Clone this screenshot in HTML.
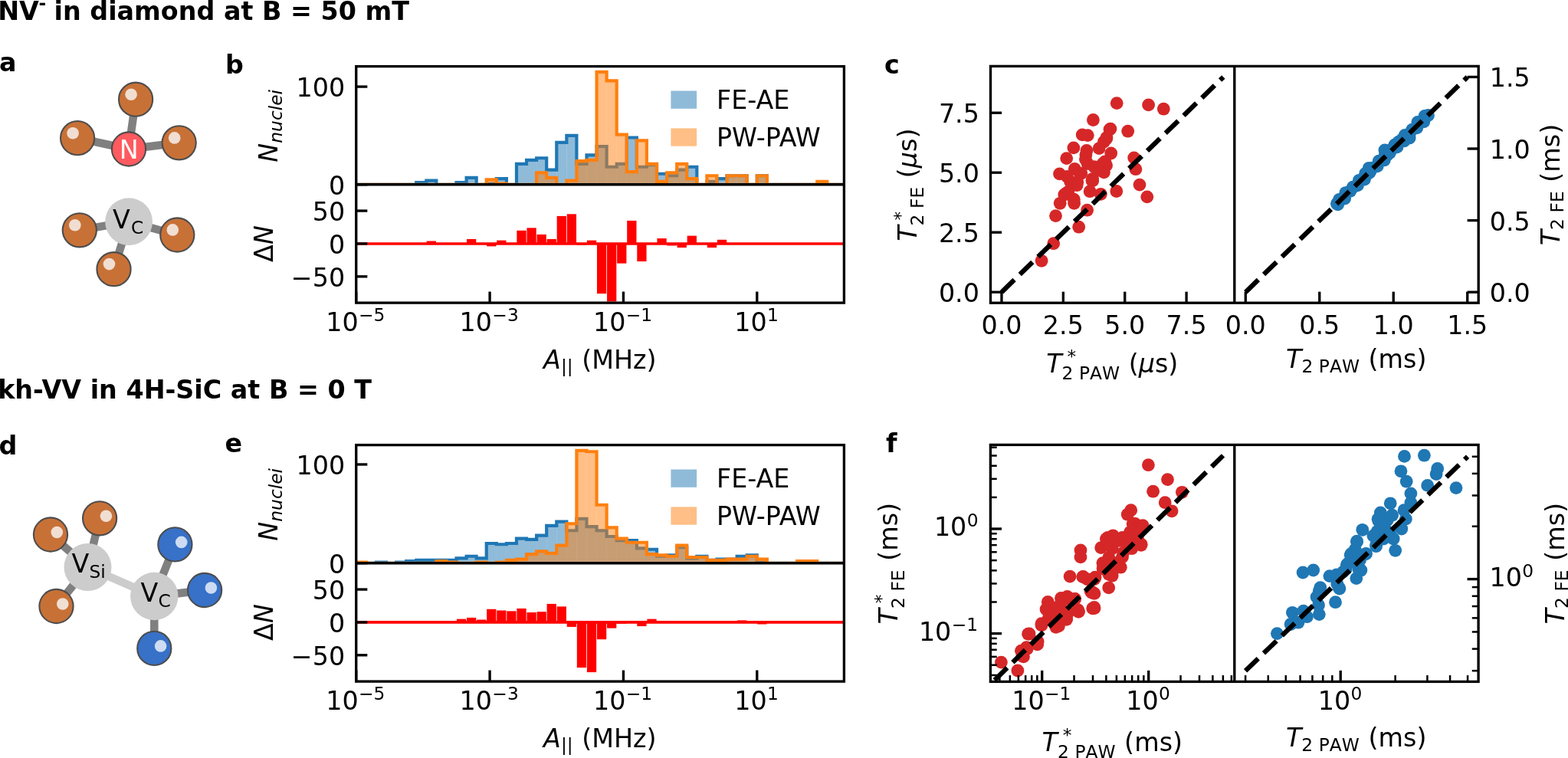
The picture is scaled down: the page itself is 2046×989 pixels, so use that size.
<!DOCTYPE html>
<html><head><meta charset="utf-8"><title>Figure</title>
<style>html,body{margin:0;padding:0;background:#fff;overflow:hidden}svg{display:block}</style>
</head><body>
<svg width="2046" height="989" viewBox="0 0 2046 989" font-family='"DejaVu Sans","Liberation Sans",sans-serif'>
<rect width="2046" height="989" fill="#fff"/>
<defs>
</defs>
<text x="-2.8" y="25.7" font-size="33.33" font-weight="bold">NV<tspan font-size="23.33" dy="-13.6" dx="-0.4">-</tspan><tspan dy="13.6" dx="-1.2"> in diamond at B = 50 mT</tspan></text>
<text x="-2.8" y="519.7" font-size="33.33" font-weight="bold">kh-VV in 4H-SiC at B = 0 T</text>
<text x="-1.00" y="92.60" font-size="33.33" font-weight="bold">a</text>
<text x="294.00" y="95.80" font-size="33.33" font-weight="bold">b</text>
<text x="1154.00" y="96.10" font-size="33.33" font-weight="bold">c</text>
<text x="-1.50" y="593.00" font-size="33.33" font-weight="bold">d</text>
<text x="293.50" y="589.60" font-size="33.33" font-weight="bold">e</text>
<text x="1156.00" y="589.90" font-size="33.33" font-weight="bold">f</text>
<line x1="168.00" y1="194.50" x2="177.10" y2="129.70" stroke="#808080" stroke-width="10.5"/>
<line x1="168.00" y1="194.50" x2="101.10" y2="180.10" stroke="#808080" stroke-width="10.5"/>
<line x1="168.00" y1="194.50" x2="233.70" y2="186.30" stroke="#808080" stroke-width="10.5"/>
<circle cx="177.10" cy="129.70" r="22.1" fill="#c87137" stroke="#4d4d4d" stroke-width="2.1"/>
<circle cx="171.10" cy="123.30" r="7.8" fill="#f1ded2"/>
<circle cx="101.10" cy="180.10" r="22.1" fill="#c87137" stroke="#4d4d4d" stroke-width="2.1"/>
<circle cx="95.10" cy="173.70" r="7.8" fill="#f1ded2"/>
<circle cx="233.70" cy="186.30" r="22.1" fill="#c87137" stroke="#4d4d4d" stroke-width="2.1"/>
<circle cx="227.70" cy="179.90" r="7.8" fill="#f1ded2"/>
<circle cx="168.00" cy="194.50" r="22.1" fill="#ff5a5f" stroke="#4d4d4d" stroke-width="2.1"/>
<text x="168.3" y="206.7" font-size="33.33" text-anchor="middle" fill="#fff">N</text>
<line x1="168.10" y1="289.20" x2="103.80" y2="300.30" stroke="#808080" stroke-width="10.5"/>
<line x1="168.10" y1="289.20" x2="231.30" y2="306.50" stroke="#808080" stroke-width="10.5"/>
<line x1="168.10" y1="289.20" x2="148.50" y2="351.20" stroke="#808080" stroke-width="10.5"/>
<circle cx="168.10" cy="289.20" r="30.9" fill="#cccccc"/>
<circle cx="103.80" cy="300.30" r="22.1" fill="#c87137" stroke="#4d4d4d" stroke-width="2.1"/>
<circle cx="97.80" cy="293.70" r="7.8" fill="#f1ded2"/>
<circle cx="231.30" cy="306.50" r="22.1" fill="#c87137" stroke="#4d4d4d" stroke-width="2.1"/>
<circle cx="225.30" cy="299.90" r="7.8" fill="#f1ded2"/>
<circle cx="148.50" cy="351.20" r="22.1" fill="#c87137" stroke="#4d4d4d" stroke-width="2.1"/>
<circle cx="142.50" cy="344.60" r="7.8" fill="#f1ded2"/>
<text x="147.00" y="297.70" font-size="33.33">V</text>
<text x="171.00" y="304.60" font-size="23.33">C</text>
<line x1="114.50" y1="740.00" x2="201.30" y2="778.00" stroke="#cccccc" stroke-width="10.5"/>
<line x1="114.50" y1="740.00" x2="66.00" y2="697.50" stroke="#808080" stroke-width="10.5"/>
<line x1="114.50" y1="740.00" x2="130.10" y2="676.30" stroke="#808080" stroke-width="10.5"/>
<line x1="114.50" y1="740.00" x2="73.50" y2="791.00" stroke="#808080" stroke-width="10.5"/>
<line x1="201.30" y1="778.00" x2="228.40" y2="710.40" stroke="#808080" stroke-width="10.5"/>
<line x1="201.30" y1="778.00" x2="267.10" y2="770.00" stroke="#808080" stroke-width="10.5"/>
<line x1="201.30" y1="778.00" x2="201.30" y2="845.90" stroke="#808080" stroke-width="10.5"/>
<circle cx="114.50" cy="740.00" r="31.0" fill="#cccccc"/>
<circle cx="201.30" cy="778.00" r="31.2" fill="#cccccc"/>
<circle cx="66.00" cy="697.50" r="22.1" fill="#c87137" stroke="#4d4d4d" stroke-width="2.1"/>
<circle cx="74.30" cy="694.50" r="7.8" fill="#f1ded2"/>
<circle cx="130.10" cy="676.30" r="22.1" fill="#c87137" stroke="#4d4d4d" stroke-width="2.1"/>
<circle cx="138.40" cy="673.30" r="7.8" fill="#f1ded2"/>
<circle cx="73.50" cy="791.00" r="22.1" fill="#c87137" stroke="#4d4d4d" stroke-width="2.1"/>
<circle cx="81.80" cy="788.00" r="7.8" fill="#f1ded2"/>
<circle cx="228.40" cy="710.40" r="22.1" fill="#3771c8" stroke="#4d4d4d" stroke-width="2.1"/>
<circle cx="236.70" cy="707.40" r="7.8" fill="#cddcf2"/>
<circle cx="267.10" cy="770.00" r="22.1" fill="#3771c8" stroke="#4d4d4d" stroke-width="2.1"/>
<circle cx="275.40" cy="767.00" r="7.8" fill="#cddcf2"/>
<circle cx="201.30" cy="845.90" r="22.1" fill="#3771c8" stroke="#4d4d4d" stroke-width="2.1"/>
<circle cx="209.60" cy="842.90" r="7.8" fill="#cddcf2"/>
<text x="93.60" y="747.30" font-size="33.33">V</text>
<text x="116.50" y="754.20" font-size="23.33">Si</text>
<text x="183.60" y="785.20" font-size="33.33">V</text>
<text x="206.40" y="791.60" font-size="23.33">C</text>
<clipPath id="cbh"><rect x="464.75" y="86.60" width="636.65" height="154.15"/></clipPath>
<clipPath id="cbn"><rect x="464.75" y="240.75" width="636.65" height="154.35"/></clipPath>
<g clip-path="url(#cbh)">
<g fill="#1f77b4" fill-opacity="0.5"><rect x="543.21" y="238.20" width="13.08" height="2.55"/><rect x="556.28" y="235.64" width="13.08" height="5.11"/><rect x="595.51" y="238.20" width="13.08" height="2.55"/><rect x="608.59" y="231.81" width="13.08" height="8.94"/><rect x="634.74" y="239.47" width="13.08" height="1.28"/><rect x="647.81" y="233.09" width="13.08" height="7.66"/><rect x="673.97" y="213.94" width="13.08" height="26.81"/><rect x="687.04" y="208.83" width="13.08" height="31.92"/><rect x="700.12" y="206.28" width="13.08" height="34.47"/><rect x="713.19" y="221.60" width="13.08" height="19.15"/><rect x="726.27" y="185.86" width="13.08" height="54.89"/><rect x="739.35" y="176.92" width="13.08" height="63.83"/><rect x="752.42" y="213.94" width="13.08" height="26.81"/><rect x="765.50" y="202.45" width="13.08" height="38.30"/><rect x="778.57" y="190.96" width="13.08" height="49.79"/><rect x="791.65" y="217.77" width="13.08" height="22.98"/><rect x="804.73" y="213.94" width="13.08" height="26.81"/><rect x="817.80" y="179.47" width="13.08" height="61.28"/><rect x="830.88" y="217.77" width="13.08" height="22.98"/><rect x="843.95" y="215.22" width="13.08" height="25.53"/><rect x="857.03" y="226.71" width="13.08" height="14.04"/><rect x="870.11" y="229.26" width="13.08" height="11.49"/><rect x="883.18" y="221.60" width="13.08" height="19.15"/><rect x="896.26" y="217.77" width="13.08" height="22.98"/><rect x="922.41" y="236.92" width="13.08" height="3.83"/><rect x="935.49" y="233.09" width="13.08" height="7.66"/><rect x="948.56" y="229.26" width="13.08" height="11.49"/><rect x="961.64" y="229.26" width="13.08" height="11.49"/><rect x="987.79" y="229.26" width="13.08" height="11.49"/></g>
<path d="M464.75,240.75 L464.75,240.75 L477.83,240.75 L477.83,240.75 L490.90,240.75 L490.90,240.75 L503.98,240.75 L503.98,240.75 L517.05,240.75 L517.05,240.75 L530.13,240.75 L530.13,240.75 L543.21,240.75 L543.21,238.20 L556.28,238.20 L556.28,235.64 L569.36,235.64 L569.36,240.75 L582.43,240.75 L582.43,240.75 L595.51,240.75 L595.51,238.20 L608.59,238.20 L608.59,231.81 L621.66,231.81 L621.66,240.75 L634.74,240.75 L634.74,239.47 L647.81,239.47 L647.81,233.09 L660.89,233.09 L660.89,240.75 L673.97,240.75 L673.97,213.94 L687.04,213.94 L687.04,208.83 L700.12,208.83 L700.12,206.28 L713.19,206.28 L713.19,221.60 L726.27,221.60 L726.27,185.86 L739.35,185.86 L739.35,176.92 L752.42,176.92 L752.42,213.94 L765.50,213.94 L765.50,202.45 L778.57,202.45 L778.57,190.96 L791.65,190.96 L791.65,217.77 L804.73,217.77 L804.73,213.94 L817.80,213.94 L817.80,179.47 L830.88,179.47 L830.88,217.77 L843.95,217.77 L843.95,215.22 L857.03,215.22 L857.03,226.71 L870.11,226.71 L870.11,229.26 L883.18,229.26 L883.18,221.60 L896.26,221.60 L896.26,217.77 L909.33,217.77 L909.33,240.75 L922.41,240.75 L922.41,236.92 L935.49,236.92 L935.49,233.09 L948.56,233.09 L948.56,229.26 L961.64,229.26 L961.64,229.26 L974.71,229.26 L974.71,240.75 L987.79,240.75 L987.79,229.26 L1000.87,229.26 L1000.87,240.75 L1013.94,240.75 L1013.94,240.75 L1027.02,240.75 L1027.02,240.75 L1040.09,240.75 L1040.09,240.75 L1053.17,240.75 L1053.17,240.75 L1066.25,240.75 L1066.25,240.75 L1079.32,240.75 L1079.32,240.75 L1092.40,240.75 L1092.40,240.75 L1105.47,240.75 L1105.47,240.75 L1118.55,240.75 L1118.55,240.75" fill="none" stroke="#1f77b4" stroke-width="4.17" stroke-linejoin="miter"/>
<g fill="#ff7f0e" fill-opacity="0.5"><rect x="634.74" y="234.37" width="13.08" height="6.38"/><rect x="647.81" y="239.47" width="13.08" height="1.28"/><rect x="700.12" y="225.43" width="13.08" height="15.32"/><rect x="713.19" y="231.81" width="13.08" height="8.94"/><rect x="739.35" y="235.64" width="13.08" height="5.11"/><rect x="752.42" y="210.11" width="13.08" height="30.64"/><rect x="765.50" y="208.83" width="13.08" height="31.92"/><rect x="778.57" y="93.94" width="13.08" height="146.81"/><rect x="791.65" y="105.43" width="13.08" height="135.32"/><rect x="804.73" y="175.64" width="13.08" height="65.11"/><rect x="817.80" y="224.15" width="13.08" height="16.60"/><rect x="830.88" y="183.30" width="13.08" height="57.45"/><rect x="843.95" y="213.94" width="13.08" height="26.81"/><rect x="857.03" y="236.92" width="13.08" height="3.83"/><rect x="870.11" y="225.43" width="13.08" height="15.32"/><rect x="883.18" y="213.94" width="13.08" height="26.81"/><rect x="896.26" y="233.09" width="13.08" height="7.66"/><rect x="922.41" y="229.26" width="13.08" height="11.49"/><rect x="948.56" y="229.26" width="13.08" height="11.49"/><rect x="961.64" y="229.26" width="13.08" height="11.49"/><rect x="987.79" y="229.26" width="13.08" height="11.49"/><rect x="1066.25" y="236.92" width="13.08" height="3.83"/></g>
<path d="M464.75,240.75 L464.75,240.75 L477.83,240.75 L477.83,240.75 L490.90,240.75 L490.90,240.75 L503.98,240.75 L503.98,240.75 L517.05,240.75 L517.05,240.75 L530.13,240.75 L530.13,240.75 L543.21,240.75 L543.21,240.75 L556.28,240.75 L556.28,240.75 L569.36,240.75 L569.36,240.75 L582.43,240.75 L582.43,240.75 L595.51,240.75 L595.51,240.75 L608.59,240.75 L608.59,240.75 L621.66,240.75 L621.66,240.75 L634.74,240.75 L634.74,234.37 L647.81,234.37 L647.81,239.47 L660.89,239.47 L660.89,240.75 L673.97,240.75 L673.97,240.75 L687.04,240.75 L687.04,240.75 L700.12,240.75 L700.12,225.43 L713.19,225.43 L713.19,231.81 L726.27,231.81 L726.27,240.75 L739.35,240.75 L739.35,235.64 L752.42,235.64 L752.42,210.11 L765.50,210.11 L765.50,208.83 L778.57,208.83 L778.57,93.94 L791.65,93.94 L791.65,105.43 L804.73,105.43 L804.73,175.64 L817.80,175.64 L817.80,224.15 L830.88,224.15 L830.88,183.30 L843.95,183.30 L843.95,213.94 L857.03,213.94 L857.03,236.92 L870.11,236.92 L870.11,225.43 L883.18,225.43 L883.18,213.94 L896.26,213.94 L896.26,233.09 L909.33,233.09 L909.33,240.75 L922.41,240.75 L922.41,229.26 L935.49,229.26 L935.49,240.75 L948.56,240.75 L948.56,229.26 L961.64,229.26 L961.64,229.26 L974.71,229.26 L974.71,240.75 L987.79,240.75 L987.79,229.26 L1000.87,229.26 L1000.87,240.75 L1013.94,240.75 L1013.94,240.75 L1027.02,240.75 L1027.02,240.75 L1040.09,240.75 L1040.09,240.75 L1053.17,240.75 L1053.17,240.75 L1066.25,240.75 L1066.25,236.92 L1079.32,236.92 L1079.32,240.75 L1092.40,240.75 L1092.40,240.75 L1105.47,240.75 L1105.47,240.75 L1118.55,240.75 L1118.55,240.75" fill="none" stroke="#ff7f0e" stroke-width="4.17" stroke-linejoin="miter"/>
</g>
<rect x="875.4" y="118.50" width="33.7" height="23.3" fill="#1f77b4" fill-opacity="0.5"/>
<rect x="875.4" y="167.40" width="33.7" height="23.3" fill="#ff7f0e" fill-opacity="0.5"/>
<text x="935.00" y="142.00" font-size="33.33">FE-AE</text>
<text x="935.00" y="190.80" font-size="33.33">PW-PAW</text>
<g clip-path="url(#cbn)">
<line x1="464.75" y1="317.93" x2="1101.4" y2="317.93" stroke="#ff0000" stroke-width="3.6"/>
<g fill="#ff0000"><rect x="556.68" y="314.50" width="12.28" height="3.43"/><rect x="608.99" y="311.92" width="12.28" height="6.00"/><rect x="635.14" y="317.93" width="12.28" height="3.43"/><rect x="648.21" y="313.64" width="12.28" height="4.29"/><rect x="674.37" y="300.77" width="12.28" height="17.15"/><rect x="687.44" y="297.35" width="12.28" height="20.58"/><rect x="700.52" y="305.92" width="12.28" height="12.00"/><rect x="713.59" y="311.92" width="12.28" height="6.00"/><rect x="726.67" y="281.91" width="12.28" height="36.02"/><rect x="739.75" y="279.34" width="12.28" height="38.59"/><rect x="752.82" y="317.93" width="12.28" height="1.71"/><rect x="765.90" y="313.64" width="12.28" height="4.29"/><rect x="778.97" y="317.93" width="12.28" height="65.17"/><rect x="792.05" y="317.93" width="12.28" height="75.46"/><rect x="805.13" y="317.93" width="12.28" height="25.73"/><rect x="818.20" y="287.91" width="12.28" height="30.01"/><rect x="831.28" y="317.93" width="12.28" height="23.15"/><rect x="857.43" y="311.06" width="12.28" height="6.86"/><rect x="870.51" y="317.93" width="12.28" height="2.57"/><rect x="883.58" y="317.93" width="12.28" height="5.14"/><rect x="896.66" y="307.63" width="12.28" height="10.29"/><rect x="922.81" y="317.93" width="12.28" height="5.14"/><rect x="935.89" y="312.78" width="12.28" height="5.15"/></g>
</g>
<rect x="464.75" y="86.60" width="636.65" height="308.50" fill="none" stroke="#000" stroke-width="3.33"/>
<line x1="464.75" y1="240.75" x2="1101.40" y2="240.75" stroke="#000" stroke-width="3.33"/>
<line x1="464.75" y1="240.75" x2="479.33" y2="240.75" stroke="#000" stroke-width="3.33"/>
<line x1="464.75" y1="113.09" x2="479.33" y2="113.09" stroke="#000" stroke-width="3.33"/>
<line x1="464.75" y1="275.05" x2="479.33" y2="275.05" stroke="#000" stroke-width="3.33"/>
<line x1="464.75" y1="317.93" x2="479.33" y2="317.93" stroke="#000" stroke-width="3.33"/>
<line x1="464.75" y1="360.80" x2="479.33" y2="360.80" stroke="#000" stroke-width="3.33"/>
<line x1="464.75" y1="395.10" x2="464.75" y2="380.52" stroke="#000" stroke-width="3.33"/>
<line x1="639.09" y1="395.10" x2="639.09" y2="380.52" stroke="#000" stroke-width="3.33"/>
<line x1="813.43" y1="395.10" x2="813.43" y2="380.52" stroke="#000" stroke-width="3.33"/>
<line x1="987.77" y1="395.10" x2="987.77" y2="380.52" stroke="#000" stroke-width="3.33"/>
<text x="450.15" y="126.09" font-size="33.33" text-anchor="end">100</text>
<text x="450.15" y="253.75" font-size="33.33" text-anchor="end">0</text>
<text x="450.15" y="288.05" font-size="33.33" text-anchor="end">50</text>
<text x="450.15" y="330.93" font-size="33.33" text-anchor="end">0</text>
<text x="450.15" y="373.80" font-size="33.33" text-anchor="end">−50</text>
<text transform="translate(425.25,432.12)" font-size="33.33"><tspan x="0.00" y="-0.52">1</tspan><tspan x="21.23" y="-0.52">0</tspan><tspan x="42.78" y="-13.16" font-size="23.33">−</tspan><tspan x="62.36" y="-13.16" font-size="23.33">5</tspan></text>
<text transform="translate(599.59,432.12)" font-size="33.33"><tspan x="0.00" y="-0.22">1</tspan><tspan x="21.23" y="-0.22">0</tspan><tspan x="42.78" y="-12.85" font-size="23.33">−</tspan><tspan x="62.36" y="-12.85" font-size="23.33">3</tspan></text>
<text transform="translate(773.93,432.12)" font-size="33.33"><tspan x="0.00" y="-0.52">1</tspan><tspan x="21.23" y="-0.52">0</tspan><tspan x="42.78" y="-13.16" font-size="23.33">−</tspan><tspan x="62.36" y="-13.16" font-size="23.33">1</tspan></text>
<text transform="translate(958.27,432.12)" font-size="33.33"><tspan x="0.00" y="-0.52">1</tspan><tspan x="21.23" y="-0.52">0</tspan><tspan x="42.78" y="-13.16" font-size="23.33">1</tspan></text>
<text transform="translate(363.24,211.68) rotate(-90)" font-size="33.33"><tspan x="0.00" y="-0.94" font-style="italic">N</tspan><tspan x="24.97" y="4.48" font-size="23.33" font-style="italic">n</tspan><tspan x="39.77" y="4.48" font-size="23.33" font-style="italic">u</tspan><tspan x="54.58" y="4.48" font-size="23.33" font-style="italic">c</tspan><tspan x="67.42" y="4.48" font-size="23.33" font-style="italic">l</tspan><tspan x="73.92" y="4.48" font-size="23.33" font-style="italic">e</tspan><tspan x="88.29" y="4.48" font-size="23.33" font-style="italic">i</tspan></text>
<text transform="translate(356.74,341.93) rotate(-90)" font-size="33.33"><tspan x="0.00" y="-0.94">Δ</tspan><tspan x="22.83" y="-0.94" font-style="italic">N</tspan></text>
<text transform="translate(709.08,481.45)" font-size="33.33"><tspan x="0.00" y="-0.95" font-style="italic">A</tspan><tspan x="22.83" y="4.46" font-size="23.33">|</tspan><tspan x="30.70" y="4.46" font-size="23.33">|</tspan><tspan x="50.08" y="-0.95">(</tspan><tspan x="63.11" y="-0.95">M</tspan><tspan x="91.90" y="-0.95">H</tspan><tspan x="117.00" y="-0.95">z</tspan><tspan x="134.52" y="-0.95">)</tspan></text>
<clipPath id="ceh"><rect x="464.75" y="580.60" width="636.65" height="154.15"/></clipPath>
<clipPath id="cen"><rect x="464.75" y="734.75" width="636.65" height="154.35"/></clipPath>
<g clip-path="url(#ceh)">
<g fill="#1f77b4" fill-opacity="0.5"><rect x="490.90" y="733.46" width="13.08" height="1.29"/><rect x="517.05" y="733.46" width="13.08" height="1.29"/><rect x="530.13" y="732.17" width="13.08" height="2.58"/><rect x="543.21" y="730.89" width="13.08" height="3.86"/><rect x="556.28" y="730.89" width="13.08" height="3.86"/><rect x="569.36" y="730.89" width="13.08" height="3.86"/><rect x="582.43" y="730.89" width="13.08" height="3.86"/><rect x="595.51" y="728.31" width="13.08" height="6.44"/><rect x="608.59" y="725.74" width="13.08" height="9.01"/><rect x="621.66" y="728.31" width="13.08" height="6.44"/><rect x="634.74" y="708.99" width="13.08" height="25.76"/><rect x="647.81" y="710.28" width="13.08" height="24.47"/><rect x="660.89" y="708.99" width="13.08" height="25.76"/><rect x="673.97" y="702.55" width="13.08" height="32.20"/><rect x="687.04" y="703.84" width="13.08" height="30.91"/><rect x="700.12" y="698.69" width="13.08" height="36.06"/><rect x="713.19" y="685.81" width="13.08" height="48.94"/><rect x="726.27" y="680.66" width="13.08" height="54.09"/><rect x="739.35" y="692.25" width="13.08" height="42.50"/><rect x="752.42" y="676.80" width="13.08" height="57.95"/><rect x="765.50" y="687.10" width="13.08" height="47.65"/><rect x="778.57" y="692.25" width="13.08" height="42.50"/><rect x="791.65" y="699.98" width="13.08" height="34.77"/><rect x="804.73" y="705.13" width="13.08" height="29.62"/><rect x="817.80" y="705.13" width="13.08" height="29.62"/><rect x="830.88" y="715.43" width="13.08" height="19.32"/><rect x="843.95" y="716.72" width="13.08" height="18.03"/><rect x="857.03" y="725.74" width="13.08" height="9.01"/><rect x="870.11" y="724.45" width="13.08" height="10.30"/><rect x="883.18" y="714.15" width="13.08" height="20.60"/><rect x="896.26" y="728.31" width="13.08" height="6.44"/><rect x="909.33" y="725.74" width="13.08" height="9.01"/><rect x="922.41" y="730.89" width="13.08" height="3.86"/><rect x="935.49" y="729.60" width="13.08" height="5.15"/><rect x="948.56" y="729.60" width="13.08" height="5.15"/><rect x="961.64" y="725.74" width="13.08" height="9.01"/><rect x="974.71" y="724.45" width="13.08" height="10.30"/><rect x="987.79" y="733.46" width="13.08" height="1.29"/></g>
<path d="M464.75,734.75 L464.75,734.75 L477.83,734.75 L477.83,734.75 L490.90,734.75 L490.90,733.46 L503.98,733.46 L503.98,734.75 L517.05,734.75 L517.05,733.46 L530.13,733.46 L530.13,732.17 L543.21,732.17 L543.21,730.89 L556.28,730.89 L556.28,730.89 L569.36,730.89 L569.36,730.89 L582.43,730.89 L582.43,730.89 L595.51,730.89 L595.51,728.31 L608.59,728.31 L608.59,725.74 L621.66,725.74 L621.66,728.31 L634.74,728.31 L634.74,708.99 L647.81,708.99 L647.81,710.28 L660.89,710.28 L660.89,708.99 L673.97,708.99 L673.97,702.55 L687.04,702.55 L687.04,703.84 L700.12,703.84 L700.12,698.69 L713.19,698.69 L713.19,685.81 L726.27,685.81 L726.27,680.66 L739.35,680.66 L739.35,692.25 L752.42,692.25 L752.42,676.80 L765.50,676.80 L765.50,687.10 L778.57,687.10 L778.57,692.25 L791.65,692.25 L791.65,699.98 L804.73,699.98 L804.73,705.13 L817.80,705.13 L817.80,705.13 L830.88,705.13 L830.88,715.43 L843.95,715.43 L843.95,716.72 L857.03,716.72 L857.03,725.74 L870.11,725.74 L870.11,724.45 L883.18,724.45 L883.18,714.15 L896.26,714.15 L896.26,728.31 L909.33,728.31 L909.33,725.74 L922.41,725.74 L922.41,730.89 L935.49,730.89 L935.49,729.60 L948.56,729.60 L948.56,729.60 L961.64,729.60 L961.64,725.74 L974.71,725.74 L974.71,724.45 L987.79,724.45 L987.79,733.46 L1000.87,733.46 L1000.87,734.75 L1013.94,734.75 L1013.94,734.75 L1027.02,734.75 L1027.02,734.75 L1040.09,734.75 L1040.09,734.75 L1053.17,734.75 L1053.17,734.75 L1066.25,734.75 L1066.25,734.75 L1079.32,734.75 L1079.32,734.75 L1092.40,734.75 L1092.40,734.75 L1105.47,734.75 L1105.47,734.75 L1118.55,734.75 L1118.55,734.75" fill="none" stroke="#1f77b4" stroke-width="4.17" stroke-linejoin="miter"/>
<g fill="#ff7f0e" fill-opacity="0.5"><rect x="464.75" y="733.46" width="13.08" height="1.29"/><rect x="569.36" y="732.17" width="13.08" height="2.58"/><rect x="582.43" y="733.46" width="13.08" height="1.29"/><rect x="621.66" y="733.46" width="13.08" height="1.29"/><rect x="647.81" y="733.46" width="13.08" height="1.29"/><rect x="660.89" y="730.89" width="13.08" height="3.86"/><rect x="673.97" y="729.60" width="13.08" height="5.15"/><rect x="687.04" y="723.16" width="13.08" height="11.59"/><rect x="700.12" y="719.30" width="13.08" height="15.45"/><rect x="713.19" y="721.87" width="13.08" height="12.88"/><rect x="726.27" y="711.57" width="13.08" height="23.18"/><rect x="739.35" y="683.24" width="13.08" height="51.51"/><rect x="752.42" y="587.94" width="13.08" height="146.81"/><rect x="765.50" y="589.23" width="13.08" height="145.52"/><rect x="778.57" y="658.77" width="13.08" height="75.98"/><rect x="791.65" y="688.39" width="13.08" height="46.36"/><rect x="804.73" y="702.55" width="13.08" height="32.20"/><rect x="817.80" y="707.71" width="13.08" height="27.04"/><rect x="830.88" y="707.71" width="13.08" height="27.04"/><rect x="843.95" y="723.16" width="13.08" height="11.59"/><rect x="857.03" y="724.45" width="13.08" height="10.30"/><rect x="870.11" y="725.74" width="13.08" height="9.01"/><rect x="883.18" y="711.57" width="13.08" height="23.18"/><rect x="896.26" y="727.02" width="13.08" height="7.73"/><rect x="909.33" y="727.02" width="13.08" height="7.73"/><rect x="922.41" y="730.89" width="13.08" height="3.86"/><rect x="935.49" y="730.89" width="13.08" height="3.86"/><rect x="948.56" y="729.60" width="13.08" height="5.15"/><rect x="961.64" y="729.60" width="13.08" height="5.15"/><rect x="974.71" y="725.74" width="13.08" height="9.01"/><rect x="987.79" y="729.60" width="13.08" height="5.15"/><rect x="1040.09" y="732.17" width="13.08" height="2.58"/><rect x="1053.17" y="732.17" width="13.08" height="2.58"/></g>
<path d="M464.75,734.75 L464.75,733.46 L477.83,733.46 L477.83,734.75 L490.90,734.75 L490.90,734.75 L503.98,734.75 L503.98,734.75 L517.05,734.75 L517.05,734.75 L530.13,734.75 L530.13,734.75 L543.21,734.75 L543.21,734.75 L556.28,734.75 L556.28,734.75 L569.36,734.75 L569.36,732.17 L582.43,732.17 L582.43,733.46 L595.51,733.46 L595.51,734.75 L608.59,734.75 L608.59,734.75 L621.66,734.75 L621.66,733.46 L634.74,733.46 L634.74,734.75 L647.81,734.75 L647.81,733.46 L660.89,733.46 L660.89,730.89 L673.97,730.89 L673.97,729.60 L687.04,729.60 L687.04,723.16 L700.12,723.16 L700.12,719.30 L713.19,719.30 L713.19,721.87 L726.27,721.87 L726.27,711.57 L739.35,711.57 L739.35,683.24 L752.42,683.24 L752.42,587.94 L765.50,587.94 L765.50,589.23 L778.57,589.23 L778.57,658.77 L791.65,658.77 L791.65,688.39 L804.73,688.39 L804.73,702.55 L817.80,702.55 L817.80,707.71 L830.88,707.71 L830.88,707.71 L843.95,707.71 L843.95,723.16 L857.03,723.16 L857.03,724.45 L870.11,724.45 L870.11,725.74 L883.18,725.74 L883.18,711.57 L896.26,711.57 L896.26,727.02 L909.33,727.02 L909.33,727.02 L922.41,727.02 L922.41,730.89 L935.49,730.89 L935.49,730.89 L948.56,730.89 L948.56,729.60 L961.64,729.60 L961.64,729.60 L974.71,729.60 L974.71,725.74 L987.79,725.74 L987.79,729.60 L1000.87,729.60 L1000.87,734.75 L1013.94,734.75 L1013.94,734.75 L1027.02,734.75 L1027.02,734.75 L1040.09,734.75 L1040.09,732.17 L1053.17,732.17 L1053.17,732.17 L1066.25,732.17 L1066.25,734.75 L1079.32,734.75 L1079.32,734.75 L1092.40,734.75 L1092.40,734.75 L1105.47,734.75 L1105.47,734.75 L1118.55,734.75 L1118.55,734.75" fill="none" stroke="#ff7f0e" stroke-width="4.17" stroke-linejoin="miter"/>
</g>
<rect x="875.4" y="612.50" width="33.7" height="23.3" fill="#1f77b4" fill-opacity="0.5"/>
<rect x="875.4" y="661.40" width="33.7" height="23.3" fill="#ff7f0e" fill-opacity="0.5"/>
<text x="935.00" y="636.00" font-size="33.33">FE-AE</text>
<text x="935.00" y="684.80" font-size="33.33">PW-PAW</text>
<g clip-path="url(#cen)">
<line x1="464.75" y1="811.92" x2="1101.4" y2="811.92" stroke="#ff0000" stroke-width="3.6"/>
<g fill="#ff0000"><rect x="595.91" y="807.64" width="12.28" height="4.29"/><rect x="608.99" y="805.92" width="12.28" height="6.00"/><rect x="622.06" y="808.50" width="12.28" height="3.43"/><rect x="635.14" y="794.77" width="12.28" height="17.15"/><rect x="648.21" y="796.49" width="12.28" height="15.43"/><rect x="661.29" y="797.35" width="12.28" height="14.58"/><rect x="674.37" y="793.92" width="12.28" height="18.01"/><rect x="687.44" y="799.06" width="12.28" height="12.86"/><rect x="700.52" y="798.21" width="12.28" height="13.72"/><rect x="713.59" y="787.91" width="12.28" height="24.01"/><rect x="726.67" y="791.35" width="12.28" height="20.58"/><rect x="739.75" y="811.92" width="12.28" height="6.00"/><rect x="752.82" y="811.92" width="12.28" height="59.17"/><rect x="765.90" y="811.92" width="12.28" height="65.17"/><rect x="778.97" y="811.92" width="12.28" height="22.30"/><rect x="792.05" y="811.92" width="12.28" height="7.72"/><rect x="805.13" y="811.92" width="12.28" height="1.72"/><rect x="818.20" y="810.21" width="12.28" height="1.71"/><rect x="831.28" y="811.92" width="12.28" height="5.15"/><rect x="844.35" y="807.64" width="12.28" height="4.29"/><rect x="962.04" y="809.35" width="12.28" height="2.57"/><rect x="988.19" y="811.92" width="12.28" height="2.57"/></g>
</g>
<rect x="464.75" y="580.60" width="636.65" height="308.50" fill="none" stroke="#000" stroke-width="3.33"/>
<line x1="464.75" y1="734.75" x2="1101.40" y2="734.75" stroke="#000" stroke-width="3.33"/>
<line x1="464.75" y1="734.75" x2="479.33" y2="734.75" stroke="#000" stroke-width="3.33"/>
<line x1="464.75" y1="605.97" x2="479.33" y2="605.97" stroke="#000" stroke-width="3.33"/>
<line x1="464.75" y1="769.05" x2="479.33" y2="769.05" stroke="#000" stroke-width="3.33"/>
<line x1="464.75" y1="811.92" x2="479.33" y2="811.92" stroke="#000" stroke-width="3.33"/>
<line x1="464.75" y1="854.80" x2="479.33" y2="854.80" stroke="#000" stroke-width="3.33"/>
<line x1="464.75" y1="889.10" x2="464.75" y2="874.52" stroke="#000" stroke-width="3.33"/>
<line x1="639.09" y1="889.10" x2="639.09" y2="874.52" stroke="#000" stroke-width="3.33"/>
<line x1="813.43" y1="889.10" x2="813.43" y2="874.52" stroke="#000" stroke-width="3.33"/>
<line x1="987.77" y1="889.10" x2="987.77" y2="874.52" stroke="#000" stroke-width="3.33"/>
<text x="450.15" y="618.97" font-size="33.33" text-anchor="end">100</text>
<text x="450.15" y="747.75" font-size="33.33" text-anchor="end">0</text>
<text x="450.15" y="782.05" font-size="33.33" text-anchor="end">50</text>
<text x="450.15" y="824.92" font-size="33.33" text-anchor="end">0</text>
<text x="450.15" y="867.80" font-size="33.33" text-anchor="end">−50</text>
<text transform="translate(425.25,926.12)" font-size="33.33"><tspan x="0.00" y="-0.52">1</tspan><tspan x="21.23" y="-0.52">0</tspan><tspan x="42.78" y="-13.16" font-size="23.33">−</tspan><tspan x="62.36" y="-13.16" font-size="23.33">5</tspan></text>
<text transform="translate(599.59,926.12)" font-size="33.33"><tspan x="0.00" y="-0.22">1</tspan><tspan x="21.23" y="-0.22">0</tspan><tspan x="42.78" y="-12.85" font-size="23.33">−</tspan><tspan x="62.36" y="-12.85" font-size="23.33">3</tspan></text>
<text transform="translate(773.93,926.12)" font-size="33.33"><tspan x="0.00" y="-0.52">1</tspan><tspan x="21.23" y="-0.52">0</tspan><tspan x="42.78" y="-13.16" font-size="23.33">−</tspan><tspan x="62.36" y="-13.16" font-size="23.33">1</tspan></text>
<text transform="translate(958.27,926.12)" font-size="33.33"><tspan x="0.00" y="-0.52">1</tspan><tspan x="21.23" y="-0.52">0</tspan><tspan x="42.78" y="-13.16" font-size="23.33">1</tspan></text>
<text transform="translate(363.24,705.67) rotate(-90)" font-size="33.33"><tspan x="0.00" y="-0.94" font-style="italic">N</tspan><tspan x="24.97" y="4.48" font-size="23.33" font-style="italic">n</tspan><tspan x="39.77" y="4.48" font-size="23.33" font-style="italic">u</tspan><tspan x="54.58" y="4.48" font-size="23.33" font-style="italic">c</tspan><tspan x="67.42" y="4.48" font-size="23.33" font-style="italic">l</tspan><tspan x="73.92" y="4.48" font-size="23.33" font-style="italic">e</tspan><tspan x="88.29" y="4.48" font-size="23.33" font-style="italic">i</tspan></text>
<text transform="translate(356.74,835.92) rotate(-90)" font-size="33.33"><tspan x="0.00" y="-0.94">Δ</tspan><tspan x="22.83" y="-0.94" font-style="italic">N</tspan></text>
<text transform="translate(709.08,975.45)" font-size="33.33"><tspan x="0.00" y="-0.95" font-style="italic">A</tspan><tspan x="22.83" y="4.46" font-size="23.33">|</tspan><tspan x="30.70" y="4.46" font-size="23.33">|</tspan><tspan x="50.08" y="-0.95">(</tspan><tspan x="63.11" y="-0.95">M</tspan><tspan x="91.90" y="-0.95">H</tspan><tspan x="117.00" y="-0.95">z</tspan><tspan x="134.52" y="-0.95">)</tspan></text>
<clipPath id="ccl"><rect x="1292.50" y="86.40" width="318.30" height="308.80"/></clipPath>
<clipPath id="ccr"><rect x="1610.80" y="86.40" width="318.40" height="308.80"/></clipPath>
<g clip-path="url(#ccl)" fill="#d62728"><circle cx="1457.20" cy="134.60" r="8.4"/><circle cx="1498.60" cy="136.90" r="8.4"/><circle cx="1518.30" cy="142.20" r="8.4"/><circle cx="1426.40" cy="156.50" r="8.4"/><circle cx="1449.00" cy="168.10" r="8.4"/><circle cx="1471.70" cy="171.20" r="8.4"/><circle cx="1412.20" cy="175.90" r="8.4"/><circle cx="1419.30" cy="176.60" r="8.4"/><circle cx="1444.00" cy="179.50" r="8.4"/><circle cx="1440.50" cy="185.00" r="8.4"/><circle cx="1400.90" cy="192.90" r="8.4"/><circle cx="1417.90" cy="196.40" r="8.4"/><circle cx="1434.10" cy="193.60" r="8.4"/><circle cx="1449.70" cy="200.00" r="8.4"/><circle cx="1391.70" cy="206.60" r="8.4"/><circle cx="1416.40" cy="207.80" r="8.4"/><circle cx="1439.10" cy="213.40" r="8.4"/><circle cx="1427.80" cy="217.70" r="8.4"/><circle cx="1382.50" cy="226.90" r="8.4"/><circle cx="1402.30" cy="220.50" r="8.4"/><circle cx="1410.80" cy="226.20" r="8.4"/><circle cx="1440.50" cy="224.80" r="8.4"/><circle cx="1425.60" cy="233.30" r="8.4"/><circle cx="1392.40" cy="230.40" r="8.4"/><circle cx="1405.10" cy="241.70" r="8.4"/><circle cx="1456.80" cy="249.50" r="8.4"/><circle cx="1393.80" cy="250.40" r="8.4"/><circle cx="1479.70" cy="205.90" r="8.4"/><circle cx="1359.10" cy="340.30" r="8.4"/><circle cx="1374.70" cy="317.70" r="8.4"/><circle cx="1407.70" cy="296.20" r="8.4"/><circle cx="1418.60" cy="274.20" r="8.4"/><circle cx="1377.50" cy="281.60" r="8.4"/><circle cx="1383.20" cy="265.30" r="8.4"/><circle cx="1401.60" cy="265.30" r="8.4"/><circle cx="1396.60" cy="237.00" r="8.4"/><circle cx="1388.80" cy="254.00" r="8.4"/><circle cx="1422.10" cy="249.70" r="8.4"/><circle cx="1436.30" cy="253.30" r="8.4"/><circle cx="1424.90" cy="235.60" r="8.4"/><circle cx="1481.90" cy="220.70" r="8.4"/><circle cx="1487.00" cy="241.10" r="8.4"/><circle cx="1496.80" cy="256.90" r="8.4"/><circle cx="1441.80" cy="211.00" r="8.4"/><circle cx="1409.40" cy="226.40" r="8.4"/><circle cx="1416.90" cy="202.30" r="8.4"/><circle cx="1419.10" cy="213.50" r="8.4"/><circle cx="1434.70" cy="222.40" r="8.4"/><circle cx="1425.80" cy="235.70" r="8.4"/><circle cx="1443.60" cy="215.70" r="8.4"/><circle cx="1405.80" cy="237.90" r="8.4"/><circle cx="1392.40" cy="251.30" r="8.4"/><circle cx="1401.30" cy="260.20" r="8.4"/><circle cx="1448.00" cy="169.00" r="8.4"/><circle cx="1443.60" cy="181.10" r="8.4"/></g>
<g clip-path="url(#ccl)"><line x1="1306.97" y1="381.16" x2="1596.33" y2="100.44" stroke="#000" stroke-width="6.25" stroke-dasharray="23.1 10" stroke-linecap="butt"/></g>
<g clip-path="url(#ccr)" fill="#1f77b4"><circle cx="1745.66" cy="266.92" r="8.4"/><circle cx="1747.58" cy="260.30" r="8.4"/><circle cx="1754.68" cy="259.01" r="8.4"/><circle cx="1755.76" cy="251.53" r="8.4"/><circle cx="1761.95" cy="249.30" r="8.4"/><circle cx="1765.34" cy="244.20" r="8.4"/><circle cx="1771.46" cy="241.90" r="8.4"/><circle cx="1773.38" cy="235.28" r="8.4"/><circle cx="1780.48" cy="233.99" r="8.4"/><circle cx="1781.56" cy="226.51" r="8.4"/><circle cx="1787.75" cy="224.28" r="8.4"/><circle cx="1791.14" cy="219.17" r="8.4"/><circle cx="1797.26" cy="216.88" r="8.4"/><circle cx="1799.18" cy="210.26" r="8.4"/><circle cx="1806.28" cy="208.97" r="8.4"/><circle cx="1807.36" cy="201.48" r="8.4"/><circle cx="1813.55" cy="199.26" r="8.4"/><circle cx="1816.94" cy="194.15" r="8.4"/><circle cx="1823.06" cy="191.85" r="8.4"/><circle cx="1824.98" cy="185.24" r="8.4"/><circle cx="1832.08" cy="183.94" r="8.4"/><circle cx="1833.16" cy="176.46" r="8.4"/><circle cx="1839.35" cy="174.24" r="8.4"/><circle cx="1842.74" cy="169.13" r="8.4"/><circle cx="1848.86" cy="166.83" r="8.4"/><circle cx="1850.78" cy="160.21" r="8.4"/><circle cx="1857.88" cy="158.92" r="8.4"/><circle cx="1858.96" cy="151.44" r="8.4"/><circle cx="1786.10" cy="219.50" r="8.4"/><circle cx="1786.00" cy="226.00" r="8.4"/><circle cx="1806.90" cy="196.00" r="8.4"/><circle cx="1810.50" cy="202.00" r="8.4"/><circle cx="1839.20" cy="180.00" r="8.4"/><circle cx="1849.80" cy="159.50" r="8.4"/><circle cx="1863.50" cy="150.50" r="8.4"/><circle cx="1744.40" cy="265.70" r="8.4"/><circle cx="1830.00" cy="181.50" r="8.4"/><circle cx="1820.00" cy="189.00" r="8.4"/></g>
<g clip-path="url(#ccr)"><line x1="1625.27" y1="381.16" x2="1914.73" y2="100.44" stroke="#000" stroke-width="6.25" stroke-dasharray="23.1 10" stroke-linecap="butt"/></g>
<rect x="1292.50" y="86.40" width="636.70" height="308.80" fill="none" stroke="#000" stroke-width="3.33"/>
<line x1="1610.80" y1="86.40" x2="1610.80" y2="395.20" stroke="#000" stroke-width="3.33"/>
<line x1="1306.97" y1="395.20" x2="1306.97" y2="380.62" stroke="#000" stroke-width="3.33"/>
<line x1="1387.35" y1="395.20" x2="1387.35" y2="380.62" stroke="#000" stroke-width="3.33"/>
<line x1="1467.73" y1="395.20" x2="1467.73" y2="380.62" stroke="#000" stroke-width="3.33"/>
<line x1="1548.10" y1="395.20" x2="1548.10" y2="380.62" stroke="#000" stroke-width="3.33"/>
<line x1="1292.50" y1="381.16" x2="1307.08" y2="381.16" stroke="#000" stroke-width="3.33"/>
<line x1="1292.50" y1="303.18" x2="1307.08" y2="303.18" stroke="#000" stroke-width="3.33"/>
<line x1="1292.50" y1="225.20" x2="1307.08" y2="225.20" stroke="#000" stroke-width="3.33"/>
<line x1="1292.50" y1="147.22" x2="1307.08" y2="147.22" stroke="#000" stroke-width="3.33"/>
<line x1="1625.27" y1="395.20" x2="1625.27" y2="380.62" stroke="#000" stroke-width="3.33"/>
<line x1="1721.76" y1="395.20" x2="1721.76" y2="380.62" stroke="#000" stroke-width="3.33"/>
<line x1="1818.24" y1="395.20" x2="1818.24" y2="380.62" stroke="#000" stroke-width="3.33"/>
<line x1="1914.73" y1="395.20" x2="1914.73" y2="380.62" stroke="#000" stroke-width="3.33"/>
<line x1="1929.20" y1="381.16" x2="1914.62" y2="381.16" stroke="#000" stroke-width="3.33"/>
<line x1="1929.20" y1="287.59" x2="1914.62" y2="287.59" stroke="#000" stroke-width="3.33"/>
<line x1="1929.20" y1="194.01" x2="1914.62" y2="194.01" stroke="#000" stroke-width="3.33"/>
<line x1="1929.20" y1="100.44" x2="1914.62" y2="100.44" stroke="#000" stroke-width="3.33"/>
<text x="1306.97" y="435.90" font-size="33.33" text-anchor="middle">0.0</text>
<text x="1277.90" y="394.16" font-size="33.33" text-anchor="end">0.0</text>
<text x="1387.35" y="435.90" font-size="33.33" text-anchor="middle">2.5</text>
<text x="1277.90" y="316.18" font-size="33.33" text-anchor="end">2.5</text>
<text x="1467.73" y="435.90" font-size="33.33" text-anchor="middle">5.0</text>
<text x="1277.90" y="238.20" font-size="33.33" text-anchor="end">5.0</text>
<text x="1548.10" y="435.90" font-size="33.33" text-anchor="middle">7.5</text>
<text x="1277.90" y="160.22" font-size="33.33" text-anchor="end">7.5</text>
<text x="1625.27" y="435.90" font-size="33.33" text-anchor="middle">0.0</text>
<text x="1943.80" y="394.16" font-size="33.33">0.0</text>
<text x="1721.76" y="435.90" font-size="33.33" text-anchor="middle">0.5</text>
<text x="1943.80" y="300.59" font-size="33.33">0.5</text>
<text x="1818.24" y="435.90" font-size="33.33" text-anchor="middle">1.0</text>
<text x="1943.80" y="207.01" font-size="33.33">1.0</text>
<text x="1914.73" y="435.90" font-size="33.33" text-anchor="middle">1.5</text>
<text x="1943.80" y="113.44" font-size="33.33">1.5</text>
<text transform="translate(1365.15,485.92)" font-size="33.33"><tspan x="0.00" y="-0.22" font-style="italic">T</tspan><tspan x="27.25" y="-12.85" font-size="23.33">*</tspan><tspan x="20.39" y="8.81" font-size="23.33">2</tspan><tspan x="42.84" y="8.81" font-size="23.33">P</tspan><tspan x="56.92" y="8.81" font-size="23.33">A</tspan><tspan x="72.91" y="8.81" font-size="23.33">W</tspan><tspan x="107.52" y="-0.22">(</tspan><tspan x="120.54" y="-0.22" font-style="italic">μ</tspan><tspan x="141.77" y="-0.22">s</tspan><tspan x="159.16" y="-0.22">)</tspan></text>
<text transform="translate(1678.00,481.05)" font-size="33.33"><tspan x="0.00" y="-0.95" font-style="italic">T</tspan><tspan x="20.39" y="4.46" font-size="23.33">2</tspan><tspan x="42.84" y="4.46" font-size="23.33">P</tspan><tspan x="56.92" y="4.46" font-size="23.33">A</tspan><tspan x="72.91" y="4.46" font-size="23.33">W</tspan><tspan x="107.52" y="-0.95">(</tspan><tspan x="120.54" y="-0.95">m</tspan><tspan x="153.05" y="-0.95">s</tspan><tspan x="170.44" y="-0.95">)</tspan></text>
<text transform="translate(1195.72,314.80) rotate(-90)" font-size="33.33"><tspan x="0.00" y="-0.22" font-style="italic">T</tspan><tspan x="27.25" y="-12.85" font-size="23.33">*</tspan><tspan x="20.39" y="8.81" font-size="23.33">2</tspan><tspan x="42.84" y="8.81" font-size="23.33">F</tspan><tspan x="56.27" y="8.81" font-size="23.33">E</tspan><tspan x="82.55" y="-0.22">(</tspan><tspan x="95.57" y="-0.22" font-style="italic">μ</tspan><tspan x="116.80" y="-0.22">s</tspan><tspan x="134.19" y="-0.22">)</tspan></text>
<text transform="translate(2035.65,320.30) rotate(-90)" font-size="33.33"><tspan x="0.00" y="-0.95" font-style="italic">T</tspan><tspan x="20.39" y="4.46" font-size="23.33">2</tspan><tspan x="42.84" y="4.46" font-size="23.33">F</tspan><tspan x="56.27" y="4.46" font-size="23.33">E</tspan><tspan x="82.55" y="-0.95">(</tspan><tspan x="95.57" y="-0.95">m</tspan><tspan x="128.08" y="-0.95">s</tspan><tspan x="145.47" y="-0.95">)</tspan></text>
<clipPath id="cfl"><rect x="1292.40" y="580.40" width="318.40" height="309.00"/></clipPath>
<clipPath id="cfr"><rect x="1610.80" y="580.40" width="318.30" height="309.00"/></clipPath>
<g clip-path="url(#cfl)" fill="#d62728"><circle cx="1306.40" cy="864.10" r="8.4"/><circle cx="1327.90" cy="875.00" r="8.4"/><circle cx="1335.50" cy="856.80" r="8.4"/><circle cx="1332.50" cy="849.20" r="8.4"/><circle cx="1341.60" cy="827.20" r="8.4"/><circle cx="1339.30" cy="844.70" r="8.4"/><circle cx="1353.70" cy="840.90" r="8.4"/><circle cx="1359.00" cy="815.80" r="8.4"/><circle cx="1381.00" cy="815.80" r="8.4"/><circle cx="1391.60" cy="808.30" r="8.4"/><circle cx="1407.50" cy="798.10" r="8.4"/><circle cx="1425.70" cy="793.80" r="8.4"/><circle cx="1423.50" cy="771.90" r="8.4"/><circle cx="1396.10" cy="752.10" r="8.4"/><circle cx="1412.80" cy="752.60" r="8.4"/><circle cx="1429.00" cy="753.10" r="8.4"/><circle cx="1424.90" cy="773.40" r="8.4"/><circle cx="1428.00" cy="793.60" r="8.4"/><circle cx="1407.20" cy="798.10" r="8.4"/><circle cx="1367.30" cy="785.50" r="8.4"/><circle cx="1384.50" cy="780.40" r="8.4"/><circle cx="1392.60" cy="778.40" r="8.4"/><circle cx="1402.70" cy="781.50" r="8.4"/><circle cx="1370.30" cy="796.60" r="8.4"/><circle cx="1378.40" cy="792.60" r="8.4"/><circle cx="1391.60" cy="806.70" r="8.4"/><circle cx="1381.50" cy="816.80" r="8.4"/><circle cx="1359.20" cy="814.80" r="8.4"/><circle cx="1343.00" cy="827.00" r="8.4"/><circle cx="1354.20" cy="837.10" r="8.4"/><circle cx="1439.10" cy="742.00" r="8.4"/><circle cx="1373.40" cy="804.70" r="8.4"/><circle cx="1498.40" cy="606.70" r="8.4"/><circle cx="1523.50" cy="625.60" r="8.4"/><circle cx="1504.60" cy="641.20" r="8.4"/><circle cx="1542.40" cy="642.30" r="8.4"/><circle cx="1520.20" cy="655.70" r="8.4"/><circle cx="1529.10" cy="666.80" r="8.4"/><circle cx="1475.70" cy="665.70" r="8.4"/><circle cx="1471.20" cy="671.20" r="8.4"/><circle cx="1481.20" cy="683.50" r="8.4"/><circle cx="1491.20" cy="685.70" r="8.4"/><circle cx="1445.60" cy="701.30" r="8.4"/><circle cx="1464.50" cy="701.30" r="8.4"/><circle cx="1475.70" cy="696.80" r="8.4"/><circle cx="1436.70" cy="714.60" r="8.4"/><circle cx="1451.20" cy="715.70" r="8.4"/><circle cx="1476.80" cy="715.70" r="8.4"/><circle cx="1489.00" cy="711.30" r="8.4"/><circle cx="1464.50" cy="726.90" r="8.4"/><circle cx="1443.40" cy="733.50" r="8.4"/><circle cx="1462.30" cy="740.20" r="8.4"/><circle cx="1451.20" cy="751.30" r="8.4"/><circle cx="1446.70" cy="766.90" r="8.4"/><circle cx="1410.00" cy="718.00" r="8.4"/><circle cx="1410.00" cy="726.90" r="8.4"/><circle cx="1413.40" cy="752.50" r="8.4"/><circle cx="1428.90" cy="753.60" r="8.4"/><circle cx="1426.70" cy="773.60" r="8.4"/><circle cx="1427.80" cy="792.50" r="8.4"/><circle cx="1402.20" cy="781.40" r="8.4"/><circle cx="1406.70" cy="795.80" r="8.4"/><circle cx="1374.67" cy="799.50" r="8.4"/><circle cx="1387.21" cy="796.37" r="8.4"/><circle cx="1393.48" cy="799.50" r="8.4"/><circle cx="1368.39" cy="805.78" r="8.4"/><circle cx="1377.80" cy="818.32" r="8.4"/><circle cx="1358.99" cy="813.62" r="8.4"/><circle cx="1446.79" cy="727.38" r="8.4"/><circle cx="1440.52" cy="736.79" r="8.4"/><circle cx="1453.06" cy="743.06" r="8.4"/><circle cx="1459.33" cy="733.65" r="8.4"/><circle cx="1465.60" cy="721.11" r="8.4"/><circle cx="1446.79" cy="749.33" r="8.4"/><circle cx="1453.06" cy="708.57" r="8.4"/><circle cx="1460.90" cy="705.43" r="8.4"/><circle cx="1471.88" cy="699.16" r="8.4"/><circle cx="1478.15" cy="683.48" r="8.4"/><circle cx="1490.69" cy="686.62" r="8.4"/><circle cx="1484.42" cy="702.30" r="8.4"/><circle cx="1478.15" cy="711.70" r="8.4"/><circle cx="1489.12" cy="710.13" r="8.4"/><circle cx="1333.90" cy="855.95" r="8.4"/><circle cx="1340.17" cy="846.54" r="8.4"/><circle cx="1352.72" cy="840.27" r="8.4"/><circle cx="1418.57" cy="755.60" r="8.4"/><circle cx="1427.97" cy="755.60" r="8.4"/><circle cx="1423.27" cy="771.28" r="8.4"/><circle cx="1427.97" cy="774.42" r="8.4"/><circle cx="1385.20" cy="783.90" r="8.4"/><circle cx="1394.10" cy="781.60" r="8.4"/><circle cx="1365.00" cy="795.00" r="8.4"/><circle cx="1378.50" cy="804.00" r="8.4"/><circle cx="1443.40" cy="703.30" r="8.4"/><circle cx="1452.30" cy="698.80" r="8.4"/><circle cx="1463.50" cy="703.30" r="8.4"/><circle cx="1470.30" cy="707.70" r="8.4"/><circle cx="1438.90" cy="734.60" r="8.4"/><circle cx="1452.30" cy="736.80" r="8.4"/><circle cx="1479.20" cy="683.10" r="8.4"/><circle cx="1474.70" cy="694.30" r="8.4"/><circle cx="1483.70" cy="689.80" r="8.4"/></g>
<g clip-path="url(#cfl)"><line x1="1294.37" y1="890.80" x2="1596.00" y2="594.38" stroke="#000" stroke-width="6.25" stroke-dasharray="23.1 10" stroke-linecap="butt" stroke-dashoffset="28.30"/></g>
<g clip-path="url(#cfr)" fill="#1f77b4"><circle cx="1666.40" cy="826.60" r="8.4"/><circle cx="1684.10" cy="814.50" r="8.4"/><circle cx="1686.40" cy="799.30" r="8.4"/><circle cx="1694.00" cy="812.20" r="8.4"/><circle cx="1700.80" cy="797.10" r="8.4"/><circle cx="1705.40" cy="804.70" r="8.4"/><circle cx="1721.30" cy="801.60" r="8.4"/><circle cx="1720.50" cy="789.50" r="8.4"/><circle cx="1718.30" cy="778.90" r="8.4"/><circle cx="1722.80" cy="766.70" r="8.4"/><circle cx="1700.10" cy="747.00" r="8.4"/><circle cx="1713.70" cy="744.00" r="8.4"/><circle cx="1742.50" cy="785.70" r="8.4"/><circle cx="1734.90" cy="751.60" r="8.4"/><circle cx="1747.10" cy="766.70" r="8.4"/><circle cx="1744.00" cy="750.00" r="8.4"/><circle cx="1756.20" cy="742.50" r="8.4"/><circle cx="1769.80" cy="754.60" r="8.4"/><circle cx="1775.90" cy="744.00" r="8.4"/><circle cx="1762.20" cy="724.30" r="8.4"/><circle cx="1770.60" cy="706.80" r="8.4"/><circle cx="1782.00" cy="722.80" r="8.4"/><circle cx="1795.60" cy="710.60" r="8.4"/><circle cx="1768.30" cy="716.70" r="8.4"/><circle cx="1759.20" cy="734.90" r="8.4"/><circle cx="1832.50" cy="595.40" r="8.4"/><circle cx="1858.40" cy="594.20" r="8.4"/><circle cx="1875.70" cy="611.50" r="8.4"/><circle cx="1874.10" cy="618.50" r="8.4"/><circle cx="1828.00" cy="614.80" r="8.4"/><circle cx="1835.20" cy="628.20" r="8.4"/><circle cx="1862.70" cy="633.40" r="8.4"/><circle cx="1900.00" cy="636.60" r="8.4"/><circle cx="1840.90" cy="643.90" r="8.4"/><circle cx="1840.90" cy="656.00" r="8.4"/><circle cx="1814.20" cy="656.80" r="8.4"/><circle cx="1801.30" cy="669.00" r="8.4"/><circle cx="1832.00" cy="665.70" r="8.4"/><circle cx="1816.60" cy="672.20" r="8.4"/><circle cx="1798.80" cy="679.50" r="8.4"/><circle cx="1810.20" cy="678.70" r="8.4"/><circle cx="1834.40" cy="677.10" r="8.4"/><circle cx="1828.80" cy="690.00" r="8.4"/><circle cx="1797.20" cy="693.30" r="8.4"/><circle cx="1808.50" cy="691.60" r="8.4"/><circle cx="1797.20" cy="706.20" r="8.4"/><circle cx="1777.80" cy="691.30" r="8.4"/><circle cx="1770.50" cy="706.20" r="8.4"/><circle cx="1818.20" cy="703.00" r="8.4"/><circle cx="1820.70" cy="718.30" r="8.4"/><circle cx="1782.60" cy="722.40" r="8.4"/><circle cx="1763.20" cy="722.40" r="8.4"/><circle cx="1795.60" cy="712.70" r="8.4"/><circle cx="1805.30" cy="703.00" r="8.4"/><circle cx="1757.34" cy="736.74" r="8.4"/><circle cx="1752.63" cy="746.14" r="8.4"/><circle cx="1774.58" cy="730.47" r="8.4"/><circle cx="1773.01" cy="743.01" r="8.4"/><circle cx="1747.93" cy="768.09" r="8.4"/><circle cx="1744.80" cy="761.82" r="8.4"/><circle cx="1721.29" cy="771.22" r="8.4"/><circle cx="1718.15" cy="779.06" r="8.4"/><circle cx="1798.09" cy="677.18" r="8.4"/><circle cx="1813.76" cy="695.99" r="8.4"/><circle cx="1791.82" cy="699.12" r="8.4"/></g>
<g clip-path="url(#cfr)"><line x1="1625.12" y1="875.18" x2="1915.07" y2="595.75" stroke="#000" stroke-width="6.25" stroke-dasharray="23.1 10" stroke-linecap="butt"/></g>
<rect x="1292.40" y="580.40" width="636.70" height="309.00" fill="none" stroke="#000" stroke-width="3.33"/>
<line x1="1610.80" y1="580.40" x2="1610.80" y2="889.40" stroke="#000" stroke-width="3.33"/>
<line x1="1359.70" y1="889.40" x2="1359.70" y2="874.82" stroke="#000" stroke-width="3.33"/>
<line x1="1498.70" y1="889.40" x2="1498.70" y2="874.82" stroke="#000" stroke-width="3.33"/>
<line x1="1304.39" y1="889.40" x2="1304.39" y2="881.07" stroke="#000" stroke-width="2.5"/>
<line x1="1317.86" y1="889.40" x2="1317.86" y2="881.07" stroke="#000" stroke-width="2.5"/>
<line x1="1328.86" y1="889.40" x2="1328.86" y2="881.07" stroke="#000" stroke-width="2.5"/>
<line x1="1338.17" y1="889.40" x2="1338.17" y2="881.07" stroke="#000" stroke-width="2.5"/>
<line x1="1346.23" y1="889.40" x2="1346.23" y2="881.07" stroke="#000" stroke-width="2.5"/>
<line x1="1353.34" y1="889.40" x2="1353.34" y2="881.07" stroke="#000" stroke-width="2.5"/>
<line x1="1401.54" y1="889.40" x2="1401.54" y2="881.07" stroke="#000" stroke-width="2.5"/>
<line x1="1426.02" y1="889.40" x2="1426.02" y2="881.07" stroke="#000" stroke-width="2.5"/>
<line x1="1443.39" y1="889.40" x2="1443.39" y2="881.07" stroke="#000" stroke-width="2.5"/>
<line x1="1456.86" y1="889.40" x2="1456.86" y2="881.07" stroke="#000" stroke-width="2.5"/>
<line x1="1467.86" y1="889.40" x2="1467.86" y2="881.07" stroke="#000" stroke-width="2.5"/>
<line x1="1477.17" y1="889.40" x2="1477.17" y2="881.07" stroke="#000" stroke-width="2.5"/>
<line x1="1485.23" y1="889.40" x2="1485.23" y2="881.07" stroke="#000" stroke-width="2.5"/>
<line x1="1492.34" y1="889.40" x2="1492.34" y2="881.07" stroke="#000" stroke-width="2.5"/>
<line x1="1540.54" y1="889.40" x2="1540.54" y2="881.07" stroke="#000" stroke-width="2.5"/>
<line x1="1565.02" y1="889.40" x2="1565.02" y2="881.07" stroke="#000" stroke-width="2.5"/>
<line x1="1582.39" y1="889.40" x2="1582.39" y2="881.07" stroke="#000" stroke-width="2.5"/>
<line x1="1595.86" y1="889.40" x2="1595.86" y2="881.07" stroke="#000" stroke-width="2.5"/>
<line x1="1606.86" y1="889.40" x2="1606.86" y2="881.07" stroke="#000" stroke-width="2.5"/>
<line x1="1292.40" y1="826.60" x2="1306.98" y2="826.60" stroke="#000" stroke-width="3.33"/>
<line x1="1292.40" y1="690.00" x2="1306.98" y2="690.00" stroke="#000" stroke-width="3.33"/>
<line x1="1292.40" y1="880.96" x2="1300.73" y2="880.96" stroke="#000" stroke-width="2.5"/>
<line x1="1292.40" y1="867.72" x2="1300.73" y2="867.72" stroke="#000" stroke-width="2.5"/>
<line x1="1292.40" y1="856.90" x2="1300.73" y2="856.90" stroke="#000" stroke-width="2.5"/>
<line x1="1292.40" y1="847.76" x2="1300.73" y2="847.76" stroke="#000" stroke-width="2.5"/>
<line x1="1292.40" y1="839.84" x2="1300.73" y2="839.84" stroke="#000" stroke-width="2.5"/>
<line x1="1292.40" y1="832.85" x2="1300.73" y2="832.85" stroke="#000" stroke-width="2.5"/>
<line x1="1292.40" y1="785.48" x2="1300.73" y2="785.48" stroke="#000" stroke-width="2.5"/>
<line x1="1292.40" y1="761.43" x2="1300.73" y2="761.43" stroke="#000" stroke-width="2.5"/>
<line x1="1292.40" y1="744.36" x2="1300.73" y2="744.36" stroke="#000" stroke-width="2.5"/>
<line x1="1292.40" y1="731.12" x2="1300.73" y2="731.12" stroke="#000" stroke-width="2.5"/>
<line x1="1292.40" y1="720.30" x2="1300.73" y2="720.30" stroke="#000" stroke-width="2.5"/>
<line x1="1292.40" y1="711.16" x2="1300.73" y2="711.16" stroke="#000" stroke-width="2.5"/>
<line x1="1292.40" y1="703.24" x2="1300.73" y2="703.24" stroke="#000" stroke-width="2.5"/>
<line x1="1292.40" y1="696.25" x2="1300.73" y2="696.25" stroke="#000" stroke-width="2.5"/>
<line x1="1292.40" y1="648.88" x2="1300.73" y2="648.88" stroke="#000" stroke-width="2.5"/>
<line x1="1292.40" y1="624.83" x2="1300.73" y2="624.83" stroke="#000" stroke-width="2.5"/>
<line x1="1292.40" y1="607.76" x2="1300.73" y2="607.76" stroke="#000" stroke-width="2.5"/>
<line x1="1292.40" y1="594.52" x2="1300.73" y2="594.52" stroke="#000" stroke-width="2.5"/>
<line x1="1292.40" y1="583.70" x2="1300.73" y2="583.70" stroke="#000" stroke-width="2.5"/>
<line x1="1749.20" y1="889.40" x2="1749.20" y2="874.82" stroke="#000" stroke-width="3.33"/>
<line x1="1625.12" y1="889.40" x2="1625.12" y2="881.07" stroke="#000" stroke-width="2.5"/>
<line x1="1654.77" y1="889.40" x2="1654.77" y2="881.07" stroke="#000" stroke-width="2.5"/>
<line x1="1677.77" y1="889.40" x2="1677.77" y2="881.07" stroke="#000" stroke-width="2.5"/>
<line x1="1696.56" y1="889.40" x2="1696.56" y2="881.07" stroke="#000" stroke-width="2.5"/>
<line x1="1712.44" y1="889.40" x2="1712.44" y2="881.07" stroke="#000" stroke-width="2.5"/>
<line x1="1726.20" y1="889.40" x2="1726.20" y2="881.07" stroke="#000" stroke-width="2.5"/>
<line x1="1738.34" y1="889.40" x2="1738.34" y2="881.07" stroke="#000" stroke-width="2.5"/>
<line x1="1820.63" y1="889.40" x2="1820.63" y2="881.07" stroke="#000" stroke-width="2.5"/>
<line x1="1862.42" y1="889.40" x2="1862.42" y2="881.07" stroke="#000" stroke-width="2.5"/>
<line x1="1892.07" y1="889.40" x2="1892.07" y2="881.07" stroke="#000" stroke-width="2.5"/>
<line x1="1915.07" y1="889.40" x2="1915.07" y2="881.07" stroke="#000" stroke-width="2.5"/>
<line x1="1929.10" y1="755.60" x2="1914.52" y2="755.60" stroke="#000" stroke-width="3.33"/>
<line x1="1929.10" y1="875.18" x2="1920.77" y2="875.18" stroke="#000" stroke-width="2.5"/>
<line x1="1929.10" y1="846.61" x2="1920.77" y2="846.61" stroke="#000" stroke-width="2.5"/>
<line x1="1929.10" y1="824.45" x2="1920.77" y2="824.45" stroke="#000" stroke-width="2.5"/>
<line x1="1929.10" y1="806.34" x2="1920.77" y2="806.34" stroke="#000" stroke-width="2.5"/>
<line x1="1929.10" y1="791.03" x2="1920.77" y2="791.03" stroke="#000" stroke-width="2.5"/>
<line x1="1929.10" y1="777.76" x2="1920.77" y2="777.76" stroke="#000" stroke-width="2.5"/>
<line x1="1929.10" y1="766.06" x2="1920.77" y2="766.06" stroke="#000" stroke-width="2.5"/>
<line x1="1929.10" y1="686.75" x2="1920.77" y2="686.75" stroke="#000" stroke-width="2.5"/>
<line x1="1929.10" y1="646.48" x2="1920.77" y2="646.48" stroke="#000" stroke-width="2.5"/>
<line x1="1929.10" y1="617.91" x2="1920.77" y2="617.91" stroke="#000" stroke-width="2.5"/>
<line x1="1929.10" y1="595.75" x2="1920.77" y2="595.75" stroke="#000" stroke-width="2.5"/>
<text transform="translate(1320.20,926.12)" font-size="33.33"><tspan x="0.00" y="-0.52">1</tspan><tspan x="21.23" y="-0.52">0</tspan><tspan x="42.78" y="-13.16" font-size="23.33">−</tspan><tspan x="62.36" y="-13.16" font-size="23.33">1</tspan></text>
<text transform="translate(1198.90,836.20)" font-size="33.33"><tspan x="0.00" y="-0.52">1</tspan><tspan x="21.23" y="-0.52">0</tspan><tspan x="42.78" y="-13.16" font-size="23.33">−</tspan><tspan x="62.36" y="-13.16" font-size="23.33">1</tspan></text>
<text transform="translate(1469.20,926.12)" font-size="33.33"><tspan x="0.00" y="-0.22">1</tspan><tspan x="21.23" y="-0.22">0</tspan><tspan x="42.78" y="-12.85" font-size="23.33">0</tspan></text>
<text transform="translate(1218.90,699.60)" font-size="33.33"><tspan x="0.00" y="-0.22">1</tspan><tspan x="21.23" y="-0.22">0</tspan><tspan x="42.78" y="-12.85" font-size="23.33">0</tspan></text>
<text transform="translate(1719.70,926.12)" font-size="33.33"><tspan x="0.00" y="-0.22">1</tspan><tspan x="21.23" y="-0.22">0</tspan><tspan x="42.78" y="-12.85" font-size="23.33">0</tspan></text>
<text transform="translate(1943.60,765.40)" font-size="33.33"><tspan x="0.00" y="-0.22">1</tspan><tspan x="21.23" y="-0.22">0</tspan><tspan x="42.78" y="-12.85" font-size="23.33">0</tspan></text>
<text transform="translate(1359.60,979.92)" font-size="33.33"><tspan x="0.00" y="-0.22" font-style="italic">T</tspan><tspan x="27.25" y="-12.85" font-size="23.33">*</tspan><tspan x="20.39" y="8.81" font-size="23.33">2</tspan><tspan x="42.84" y="8.81" font-size="23.33">P</tspan><tspan x="56.92" y="8.81" font-size="23.33">A</tspan><tspan x="72.91" y="8.81" font-size="23.33">W</tspan><tspan x="107.52" y="-0.22">(</tspan><tspan x="120.54" y="-0.22">m</tspan><tspan x="153.05" y="-0.22">s</tspan><tspan x="170.44" y="-0.22">)</tspan></text>
<text transform="translate(1677.95,975.05)" font-size="33.33"><tspan x="0.00" y="-0.95" font-style="italic">T</tspan><tspan x="20.39" y="4.46" font-size="23.33">2</tspan><tspan x="42.84" y="4.46" font-size="23.33">P</tspan><tspan x="56.92" y="4.46" font-size="23.33">A</tspan><tspan x="72.91" y="4.46" font-size="23.33">W</tspan><tspan x="107.52" y="-0.95">(</tspan><tspan x="120.54" y="-0.95">m</tspan><tspan x="153.05" y="-0.95">s</tspan><tspan x="170.44" y="-0.95">)</tspan></text>
<text transform="translate(1170.90,814.40) rotate(-90)" font-size="33.33"><tspan x="0.00" y="-0.22" font-style="italic">T</tspan><tspan x="27.25" y="-12.85" font-size="23.33">*</tspan><tspan x="20.39" y="8.81" font-size="23.33">2</tspan><tspan x="42.84" y="8.81" font-size="23.33">F</tspan><tspan x="56.27" y="8.81" font-size="23.33">E</tspan><tspan x="82.55" y="-0.22">(</tspan><tspan x="95.57" y="-0.22">m</tspan><tspan x="128.08" y="-0.22">s</tspan><tspan x="145.47" y="-0.22">)</tspan></text>
<text transform="translate(2041.50,814.40) rotate(-90)" font-size="33.33"><tspan x="0.00" y="-0.95" font-style="italic">T</tspan><tspan x="20.39" y="4.46" font-size="23.33">2</tspan><tspan x="42.84" y="4.46" font-size="23.33">F</tspan><tspan x="56.27" y="4.46" font-size="23.33">E</tspan><tspan x="82.55" y="-0.95">(</tspan><tspan x="95.57" y="-0.95">m</tspan><tspan x="128.08" y="-0.95">s</tspan><tspan x="145.47" y="-0.95">)</tspan></text>
</svg>
</body></html>
